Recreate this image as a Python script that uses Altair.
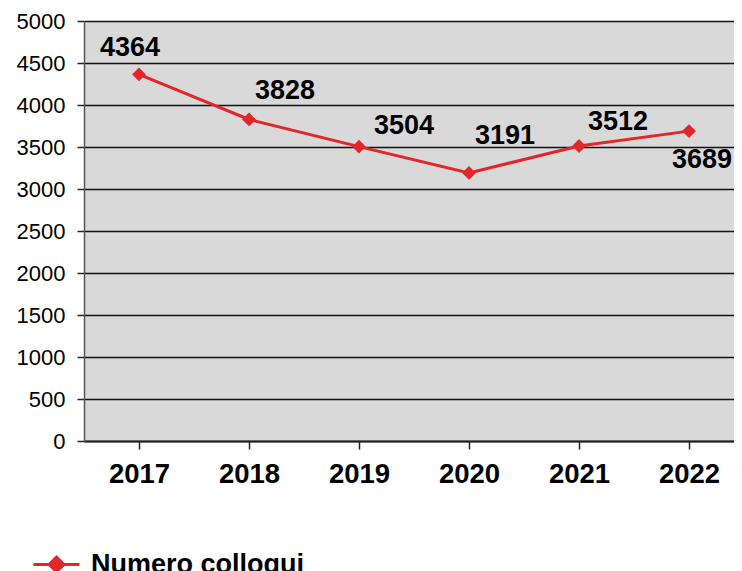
import altair as alt
import pandas as pd

years = ["2017", "2018", "2019", "2020", "2021", "2022"]
values = [4364, 3828, 3504, 3191, 3512, 3689]
series = "Numero colloqui"

df = pd.DataFrame({"anno": years, "valore": values, "serie": [series] * len(years)})

RED = "#E3262A"
FONT = "Liberation Sans"

x = alt.X(
    "anno:N",
    sort=years,
    scale=alt.Scale(range=[0, 660], paddingInner=0, paddingOuter=0),
    axis=alt.Axis(
        title=None, labelAngle=0, labelFontSize=27.5, labelFontWeight="bold",
        labelColor="black", labelFont=FONT, bandPosition=0, tickSize=8,
        tickColor="#222", tickWidth=1.5, domainColor="#222", domainWidth=2,
        labelPadding=11, grid=False,
    ),
)
y = alt.Y(
    "valore:Q",
    scale=alt.Scale(domain=[0, 5000], nice=False),
    axis=alt.Axis(
        title=None, values=list(range(0, 5001, 500)), format="d",
        labelFontSize=22, labelColor="black", labelFont=FONT, tickSize=7,
        tickColor="#222", tickWidth=1.5, domainColor="#555", domainWidth=1.5,
        labelPadding=12, gridColor="#111", gridWidth=1.3, gridOpacity=1,
    ),
)

legend_symbol = "M-1,0L1,0M0,-0.32L0.32,0L0,0.32L-0.32,0Z"

line = alt.Chart(df).mark_line(strokeWidth=3).encode(
    x=x, y=y,
    color=alt.Color(
        "serie:N",
        scale=alt.Scale(range=[RED]),
        legend=alt.Legend(
            title=None, orient="none", legendX=-52, legendY=519,
            symbolType=legend_symbol, symbolSize=2116, symbolStrokeWidth=3,
            symbolFillColor=RED,
            labelFontSize=27, labelFontWeight="bold", labelFont=FONT,
            labelColor="black", padding=0, labelOffset=10, labelLimit=500,
        ),
    ),
)

points = alt.Chart(df).mark_point(
    shape="diamond", filled=True, size=190, color=RED, opacity=1
).encode(x=x, y=y)

offsets = {
    "2017": (-9, -26),
    "2018": (36, -28),
    "2019": (45, -21),
    "2020": (36, -37),
    "2021": (39, -24),
    "2022": (13, 29),
}

labels = []
for yr in years:
    dx, dy = offsets[yr]
    labels.append(
        alt.Chart(df)
        .transform_filter(alt.datum.anno == yr)
        .mark_text(
            fontSize=27, fontWeight="bold", font=FONT, color="black",
            dx=dx, dy=dy, baseline="middle", align="center",
        )
        .encode(x=x, y=y, text="valore:Q")
    )

chart = (
    alt.layer(line, points, *labels)
    .properties(
        width=650, height=420,
        background="white",
        autosize=alt.AutoSizeParams(type="none"),
        padding={"left": 76, "top": 13, "right": 0, "bottom": 130},
    )
    .configure_view(fill="#D9D9D9", strokeWidth=0)
)

chart.save("out.html", embed_options={"renderer": "svg", "actions": False})
